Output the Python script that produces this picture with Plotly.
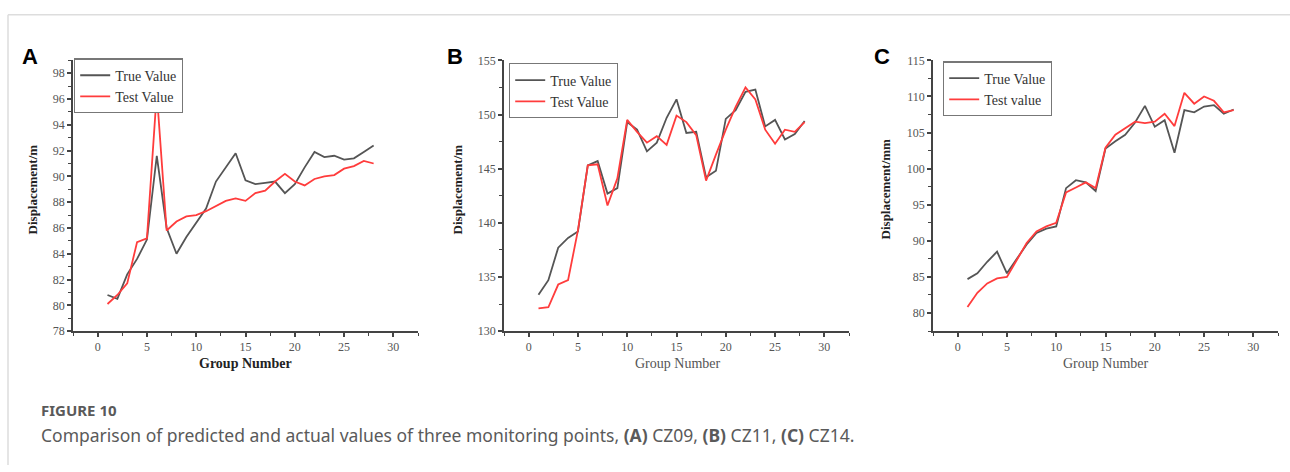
import plotly.graph_objects as go

W, H = 1290, 472
groups = list(range(1, 29))

a_true = [80.8, 80.5, 82.4, 83.6, 85.1, 91.6, 86.0, 84.0, 85.3, 86.4, 87.5, 89.6, 90.7, 91.8,
          89.7, 89.4, 89.5, 89.6, 88.7, 89.4, 90.7, 91.9, 91.5, 91.6, 91.3, 91.4, 91.9, 92.4]
a_test = [80.1, 80.8, 81.7, 84.9, 85.2, 96.5, 85.8, 86.5, 86.9, 87.0, 87.3, 87.7, 88.1, 88.3,
          88.1, 88.7, 88.9, 89.6, 90.2, 89.6, 89.3, 89.8, 90.0, 90.1, 90.6, 90.8, 91.2, 91.0]

b_true = [133.35, 134.7, 137.7, 138.6, 139.2, 145.3, 145.7, 142.7, 143.2, 149.3, 148.6, 146.6,
          147.4, 149.7, 151.4, 148.3, 148.4, 144.2, 144.8, 149.6, 150.4, 152.1, 152.3, 148.9,
          149.5, 147.7, 148.2, 149.4]
b_test = [132.1, 132.2, 134.3, 134.7, 139.3, 145.3, 145.4, 141.6, 144.1, 149.5, 148.4, 147.4,
          148.0, 147.2, 149.9, 149.3, 148.1, 143.9, 146.3, 148.6, 150.7, 152.5, 151.4, 148.6,
          147.3, 148.6, 148.4, 149.3]

c_true = [84.7, 85.5, 87.1, 88.5, 85.5, 87.5, 89.5, 91.1, 91.7, 92.0, 97.3, 98.4, 98.1, 96.9,
          102.8, 103.8, 104.7, 106.4, 108.7, 105.8, 106.7, 102.2, 108.1, 107.8, 108.6, 108.8,
          107.6, 108.2]
c_test = [80.85, 82.8, 84.1, 84.8, 85.0, 87.3, 89.7, 91.3, 92.0, 92.5, 96.7, 97.4, 98.1, 97.3,
          102.9, 104.7, 105.6, 106.5, 106.3, 106.5, 107.6, 105.9, 110.5, 109.0, 110.0, 109.4,
          107.8, 108.1]

panel_letters = ["A", "B", "C"]
y_titles = ["Displacement/m", "Displacement/m", "Displacement/mm"]
x_title = "Group Number"
legend_names = [("True Value", "Test Value"), ("True Value", "Test Value"), ("True Value", "Test value")]
caption_head = "FIGURE 10"
caption_text = ("Comparison of predicted and actual values of three monitoring points, "
                "<b>(A)</b> CZ09, <b>(B)</b> CZ11, <b>(C)</b> CZ14.")

GRAY = "#555555"
RED = "#ff3c3c"
SERIF = "Liberation Serif"

def px(x):
    return x / W

def py(y):
    return 1 - y / H

panels = [
    dict(x0=73, x1=418, yr=[78, 99], dt=2, mdt=1, leg=(74, 53), ytx=32, xtx=245, lx=30, bold_x=True),
    dict(x0=504, x1=849, yr=[130, 155], dt=5, mdt=2.5, leg=(509, 58), ytx=457, xtx=677, lx=455, bold_x=False),
    dict(x0=933, x1=1278, yr=[77.5, 115], dt=5, mdt=2.5, leg=(943, 56), ytx=885, xtx=1105, lx=882, bold_x=False),
]
TOP, BOT = 55, 334

data = [(a_true, a_test), (b_true, b_test), (c_true, c_test)]

fig = go.Figure()
annotations = []
layout = {}
for i, (p, (tv, sv)) in enumerate(zip(panels, data)):
    n = "" if i == 0 else str(i + 1)
    xa, ya = "x" + n, "y" + n
    lg = "legend" + n
    fig.add_trace(go.Scatter(x=groups, y=tv, mode="lines", name=legend_names[i][0],
                             line=dict(color=GRAY, width=1.8), xaxis=xa, yaxis=ya, legend=lg))
    fig.add_trace(go.Scatter(x=groups, y=sv, mode="lines", name=legend_names[i][1],
                             line=dict(color=RED, width=1.8), xaxis=xa, yaxis=ya, legend=lg))
    common = dict(showline=True, linecolor="#444444", linewidth=1.5, showgrid=False, zeroline=False,
                  ticks="outside", ticklen=4, tickwidth=1.5, tickcolor="#444444",
                  tickfont=dict(family=SERIF, size=12, color="#555555"))
    layout["xaxis" + n] = dict(domain=[px(p["x0"]), px(p["x1"])], range=[-2.5, 32.5],
                               tick0=0, dtick=5, anchor=ya,
                               minor=dict(ticks="outside", ticklen=3, dtick=2.5, tick0=0,
                                          tickcolor="#444444", tickwidth=1.2),
                               **common)
    layout["yaxis" + n] = dict(domain=[py(BOT), py(TOP)], range=p["yr"], dtick=p["dt"],
                               tick0=0, anchor=xa,
                               minor=dict(ticks="outside", ticklen=3, dtick=p["mdt"], tick0=0,
                                          tickcolor="#444444", tickwidth=1.2),
                               **common)
    layout[lg] = dict(x=px(p["leg"][0]), y=py(p["leg"][1]), xanchor="left", yanchor="top",
                      bgcolor="white", bordercolor="#777777", borderwidth=1.2,
                      font=dict(family=SERIF, size=14, color="#333333"),
                      tracegroupgap=0, itemwidth=30)
    annotations.append(dict(text="<b>" + y_titles[i] + "</b>", x=px(p["ytx"]), y=py(188),
                            xref="paper", yref="paper", textangle=-90, showarrow=False,
                            font=dict(family=SERIF, size=13, color="#222222"),
                            xanchor="center", yanchor="middle"))
    xt = "<b>" + x_title + "</b>" if p["bold_x"] else x_title
    annotations.append(dict(text=xt, x=px(p["xtx"]), y=py(367), xref="paper", yref="paper",
                            showarrow=False,
                            font=dict(family=SERIF, size=14, color="#222222" if p["bold_x"] else "#555555"),
                            xanchor="center", yanchor="middle"))
    annotations.append(dict(text="<b>" + panel_letters[i] + "</b>", x=px(p["lx"]), y=py(51),
                            xref="paper", yref="paper", showarrow=False,
                            font=dict(family="Liberation Sans", size=22, color="#000000"),
                            xanchor="center", yanchor="middle"))

annotations.append(dict(text="<b>" + caption_head + "</b>", x=px(39), y=py(415), xref="paper", yref="paper",
                        showarrow=False, xanchor="left", yanchor="middle",
                        font=dict(family="Noto Sans", size=15, color="#5a5a5a")))
annotations.append(dict(text=caption_text, x=px(39), y=py(441), xref="paper", yref="paper",
                        showarrow=False, xanchor="left", yanchor="middle",
                        font=dict(family="Noto Sans", size=17.5, color="#5a5a5a")))

shapes = [
    dict(type="line", xref="paper", yref="paper", x0=px(8), x1=1, y0=py(8), y1=py(8),
         line=dict(color="#dddddd", width=1.5)),
    dict(type="line", xref="paper", yref="paper", x0=px(8), x1=px(8), y0=py(8), y1=0,
         line=dict(color="#dddddd", width=1.5)),
]

fig.update_layout(width=W, height=H, margin=dict(l=0, r=0, t=0, b=0),
                  paper_bgcolor="white", plot_bgcolor="white",
                  annotations=annotations, shapes=shapes, **layout)

fig.write_html("out.html")
